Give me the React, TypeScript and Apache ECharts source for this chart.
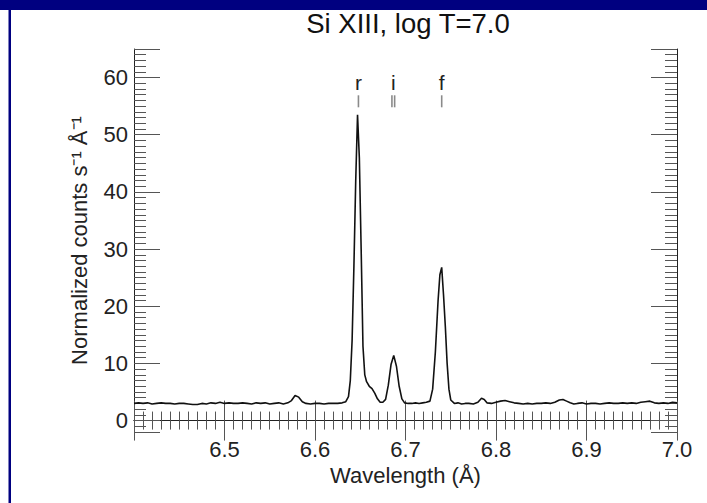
import React, { useEffect, useRef } from "react";
import * as echarts from "echarts";

const titleText = "Si XIII, log T=7.0";
const xName = "Wavelength (Å)";
const yName = "Normalized counts s⁻¹ Å⁻¹";

const xRange = [6.4, 7.0];
const yRange = [-2, 65];

const wavelengths = [
  6.400, 6.405, 6.410, 6.415, 6.420, 6.425, 6.430, 6.435, 6.440, 6.445,
  6.450, 6.455, 6.460, 6.465, 6.470, 6.475, 6.480, 6.485, 6.490, 6.495,
  6.500, 6.505, 6.510, 6.515, 6.520, 6.525, 6.530, 6.535, 6.540, 6.545,
  6.550, 6.555, 6.560, 6.565, 6.570, 6.574, 6.578, 6.582, 6.586, 6.590,
  6.595, 6.600, 6.605, 6.610, 6.615, 6.620, 6.625, 6.630, 6.634, 6.637,
  6.639, 6.641, 6.643, 6.645, 6.647, 6.649, 6.651, 6.653, 6.655, 6.657,
  6.660, 6.663, 6.666, 6.669, 6.672, 6.675, 6.678, 6.681, 6.684, 6.687,
  6.690, 6.693, 6.696, 6.699, 6.703, 6.707, 6.711, 6.715, 6.719, 6.723,
  6.727, 6.730, 6.733, 6.736, 6.738, 6.740, 6.742, 6.744, 6.746, 6.748,
  6.750, 6.754, 6.758, 6.762, 6.766, 6.770, 6.775, 6.780, 6.784, 6.787,
  6.790, 6.795, 6.800, 6.805, 6.810, 6.815, 6.820, 6.825, 6.830, 6.835,
  6.840, 6.845, 6.850, 6.855, 6.860, 6.865, 6.870, 6.874, 6.878, 6.882,
  6.886, 6.890, 6.895, 6.900, 6.905, 6.910, 6.915, 6.920, 6.925, 6.930,
  6.935, 6.940, 6.945, 6.950, 6.955, 6.960, 6.965, 6.970, 6.975, 6.980,
  6.985, 6.990, 6.995, 7.000,
];

const counts = [
  3.0, 3.1, 3.0, 3.1, 2.9, 3.0, 3.1, 3.0, 3.0, 2.9,
  3.0, 3.0, 2.9, 2.8, 2.8, 3.0, 2.9, 3.1, 3.0, 3.2,
  3.0, 3.1, 3.0, 3.0, 3.1, 3.0, 2.9, 3.1, 3.0, 3.1,
  2.9, 3.0, 3.1, 2.9, 3.1, 3.5, 4.4, 4.1, 3.3, 3.0,
  2.9, 3.0, 3.0, 2.9, 3.0, 3.0, 3.0, 3.1, 3.3, 4.2,
  7.0, 14.0, 27.0, 42.0, 53.5, 46.0, 30.0, 13.0, 8.0, 6.8,
  6.0, 5.6, 4.8, 3.8, 3.2, 3.2, 3.7, 6.2, 9.8, 11.4,
  9.5, 6.0, 3.8, 3.1, 3.0, 3.0, 3.1, 3.0, 3.1, 3.2,
  3.4, 5.5, 12.0, 21.0, 25.5, 26.8, 22.0, 16.5, 10.0, 5.5,
  3.6, 3.0, 3.1, 2.9, 3.0, 3.0, 2.9, 3.2, 3.9, 3.7,
  3.1, 3.0, 3.2, 3.4, 3.5, 3.3, 3.1, 3.0, 2.9, 3.0,
  2.9, 3.0, 3.0, 3.1, 3.0, 3.2, 3.6, 3.7, 3.4, 3.1,
  2.9, 3.0, 3.1, 2.9, 3.0, 3.0, 2.9, 3.0, 3.1, 3.0,
  3.0, 3.1, 3.0, 3.1, 3.0, 3.2, 3.3, 3.4, 3.1, 3.0,
  3.1, 3.0, 3.2, 3.1,
];

// line identification marks (wavelength, dash bottom, dash top)
const markWavelengths = [6.648, 6.685, 6.688, 6.740];
const markBottom = 54.8;
const markTop = 56.9;
const lineLabels = ["r", "i", "f"];
const lineLabelWavelengths = [6.648, 6.6865, 6.740];
const lineLabelY = 59.2;

const FONT = "'Liberation Sans', Arial, Helvetica, sans-serif";
const LABEL_SIZE = 22;

export default function App() {
  const ref = useRef<HTMLDivElement>(null);
  useEffect(() => {
    if (!ref.current) return;
    const chart = echarts.init(ref.current, undefined, { renderer: "svg" });
    const axisCommon = {
      axisLine: { show: true, lineStyle: { color: "#222", width: 1 } },
      splitLine: { show: false },
    };
    const series: any[] = [
      {
        type: "line",
        data: wavelengths.map((w, i) => [w, counts[i]]),
        showSymbol: false,
        symbol: "none",
        lineStyle: { color: "#111", width: 1.6 },
        z: 3,
      },
      {
        type: "custom",
        data: markWavelengths.map((w) => [w, markBottom, markTop]),
        renderItem: (_p: any, api: any) => {
          const a = api.coord([api.value(0), api.value(1)]);
          const b = api.coord([api.value(0), api.value(2)]);
          return {
            type: "line",
            shape: { x1: a[0], y1: a[1], x2: b[0], y2: b[1] },
            style: { stroke: "#8a8a8a", lineWidth: 1.6 },
          };
        },
        z: 4,
      },
      {
        type: "custom",
        data: lineLabelWavelengths.map((w, i) => [w, lineLabelY, lineLabels[i]]),
        renderItem: (_p: any, api: any) => {
          const a = api.coord([api.value(0), api.value(1)]);
          return {
            type: "text",
            x: a[0],
            y: a[1],
            style: {
              text: String(api.value(2)),
              fontSize: 21,
              fontFamily: FONT,
              fill: "#222",
              align: "center",
              verticalAlign: "middle",
            },
          };
        },
        z: 4,
      },
    ];
    chart.setOption({
      animation: false,
      backgroundColor: "#fff",
      title: {
        text: titleText,
        left: 403,
        top: 4,
        textAlign: "center",
        textStyle: { fontFamily: FONT, fontSize: 27.5, fontWeight: "normal", color: "#111" },
      },
      grid: { left: 134, right: 30, top: 49, bottom: 71 },
      graphic: [
        { type: "rect", shape: { x: 0, y: 0, width: 707, height: 10 }, style: { fill: "#000080" }, z: 10 },
        { type: "rect", shape: { x: 8.5, y: 0, width: 2.5, height: 503 }, style: { fill: "#000080" }, z: 10 },
      ],
      xAxis: [
        {
          ...axisCommon,
          type: "value",
          min: xRange[0],
          max: xRange[1],
          position: "bottom",
          name: xName,
          nameLocation: "middle",
          nameGap: 26,
          nameTextStyle: { fontFamily: FONT, fontSize: LABEL_SIZE, color: "#222" },
          axisTick: { show: true, inside: true, length: 20, lineStyle: { color: "#555" } },
          minorTick: { show: true, splitNumber: 10, length: 9, lineStyle: { color: "#555" } },
          axisLabel: {
            show: true,
            showMinLabel: false,
            margin: 6,
            fontFamily: FONT,
            fontSize: LABEL_SIZE,
            color: "#222",
            formatter: (v: number) => v.toFixed(1),
          },
        },
        {
          ...axisCommon,
          type: "value",
          min: xRange[0],
          max: xRange[1],
          position: "top",
          axisTick: { show: true, inside: true, length: 20, lineStyle: { color: "#555" } },
          minorTick: { show: true, splitNumber: 10, length: 9, lineStyle: { color: "#555" } },
          axisLabel: { show: false },
        },
      ],
      yAxis: [
        {
          ...axisCommon,
          type: "value",
          min: yRange[0],
          max: yRange[1],
          position: "left",
          name: yName,
          nameLocation: "middle",
          nameGap: 44,
          nameRotate: 90,
          nameTextStyle: { fontFamily: FONT, fontSize: LABEL_SIZE, color: "#222" },
          axisTick: { show: true, inside: true, length: 26, lineStyle: { color: "#555" } },
          minorTick: { show: true, splitNumber: 10, length: 12, lineStyle: { color: "#555" } },
          axisLabel: {
            show: true,
            showMinLabel: false,
            showMaxLabel: false,
            margin: 6,
            fontFamily: FONT,
            fontSize: LABEL_SIZE,
            color: "#222",
          },
        },
        {
          ...axisCommon,
          type: "value",
          min: yRange[0],
          max: yRange[1],
          position: "right",
          axisTick: { show: true, inside: true, length: 26, lineStyle: { color: "#555" } },
          minorTick: { show: true, splitNumber: 10, length: 12, lineStyle: { color: "#555" } },
          axisLabel: { show: false },
        },
      ],
      series,
    });
    return () => chart.dispose();
  }, []);
  return (
    <div
      ref={ref}
      style={{ position: "fixed", left: 0, top: 0, width: 707, height: 503 }}
    />
  );
}
